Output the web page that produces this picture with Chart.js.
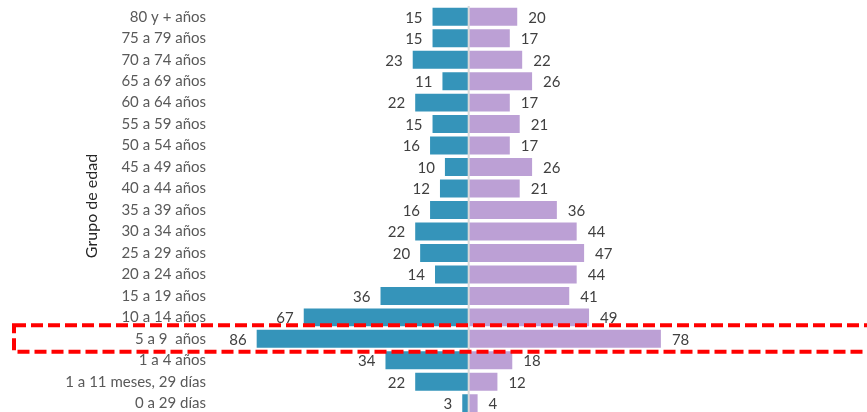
<!DOCTYPE html>
<html>
<head>
<meta charset="utf-8">
<script src="https://cdn.jsdelivr.net/npm/chart.js@4/dist/chart.umd.min.js"></script>
<style>
  html, body { margin: 0; padding: 0; background: #ffffff; overflow: hidden; }
  #wrap { width: 867px; height: 414px; }
</style>
</head>
<body>
<div id="wrap"><canvas id="pyramid" width="867" height="414"></canvas></div>
<script>
// Age groups, oldest at the top
const ageGroups = [
  '80 y + años', '75 a 79 años', '70 a 74 años', '65 a 69 años', '60 a 64 años',
  '55 a 59 años', '50 a 54 años', '45 a 49 años', '40 a 44 años', '35 a 39 años',
  '30 a 34 años', '25 a 29 años', '20 a 24 años', '15 a 19 años', '10 a 14 años',
  '5 a 9  años', '1 a 4 años', '1 a 11 meses, 29 días', '0 a 29 días'
];
// Left side of the pyramid (blue)
const leftCounts = [15, 15, 23, 11, 22, 15, 16, 10, 12, 16, 22, 20, 14, 36, 67, 86, 34, 22, 3];
// Right side of the pyramid (purple)
const rightCounts = [20, 17, 22, 26, 17, 21, 17, 26, 21, 36, 44, 47, 44, 41, 49, 78, 18, 12, 4];
// Highlighted age group
const highlightGroup = '5 a 9  años';
const axisTitle = 'Grupo de edad';

const FONT = 'Lato, "Open Sans", sans-serif';

// Value labels at the outer end of every bar
const valueLabels = {
  id: 'valueLabels',
  afterDatasetsDraw(chart) {
    const ctx = chart.ctx;
    ctx.save();
    ctx.font = '15px ' + FONT;
    ctx.fillStyle = '#404040';
    ctx.textBaseline = 'middle';
    chart.data.datasets.forEach((ds, di) => {
      const meta = chart.getDatasetMeta(di);
      meta.data.forEach((bar, i) => {
        const v = ds.data[i];
        const txt = String(Math.abs(v));
        if (v < 0) { ctx.textAlign = 'right'; ctx.fillText(txt, bar.x - 9, bar.y + 1); }
        else { ctx.textAlign = 'left'; ctx.fillText(txt, bar.x + 10, bar.y + 1); }
      });
    });
    ctx.restore();
  }
};

// Centre divider, rotated axis title and dashed highlight around one row
const decorations = {
  id: 'decorations',
  afterDatasetsDraw(chart) {
    const ctx = chart.ctx;
    const { top, bottom } = chart.chartArea;
    const x0 = chart.scales.x.getPixelForValue(0);
    ctx.save();
    ctx.strokeStyle = '#D9D9D9';
    ctx.lineWidth = 2;
    ctx.beginPath();
    ctx.moveTo(x0, top);
    ctx.lineTo(x0, bottom);
    ctx.stroke();
    ctx.restore();
  },
  afterDraw(chart) {
    const ctx = chart.ctx;
    const { top, bottom } = chart.chartArea;
    ctx.save();
    ctx.font = '16px ' + FONT;
    ctx.fillStyle = '#262626';
    ctx.textAlign = 'center';
    ctx.textBaseline = 'middle';
    ctx.translate(92, (top + bottom) / 2 - 4);
    ctx.rotate(-Math.PI / 2);
    ctx.fillText(axisTitle, 0, 0);
    ctx.restore();

    const yScale = chart.scales.y;
    const cy = yScale.getPixelForValue(ageGroups.indexOf(highlightGroup));
    ctx.save();
    ctx.strokeStyle = '#FF0000';
    ctx.lineWidth = 4;
    ctx.setLineDash([12, 5]);
    ctx.strokeRect(14, cy - 13.5, chart.width + 20, 26.5);
    ctx.restore();
  }
};

new Chart(document.getElementById('pyramid'), {
  type: 'bar',
  data: {
    labels: ageGroups,
    datasets: [
      {
        label: 'Izquierda',
        data: leftCounts.map(v => -v),
        backgroundColor: '#3594BA',
        borderColor: 'rgba(255,255,255,0.55)',
        borderWidth: 1,
        barPercentage: 0.93,
        categoryPercentage: 1
      },
      {
        label: 'Derecha',
        data: rightCounts,
        backgroundColor: '#BCA0D5',
        borderColor: 'rgba(255,255,255,0.55)',
        borderWidth: 1,
        barPercentage: 0.93,
        categoryPercentage: 1
      }
    ]
  },
  options: {
    indexAxis: 'y',
    responsive: false,
    animation: false,
    layout: { padding: { top: 6, right: 2, bottom: 0, left: 0 } },
    plugins: {
      legend: { display: false },
      tooltip: { enabled: false }
    },
    scales: {
      x: {
        display: false,
        stacked: true,
        min: -100,
        max: 160
      },
      y: {
        stacked: true,
        grid: { display: false, drawTicks: false },
        border: { display: false },
        ticks: {
          color: '#595959',
          font: { family: FONT, size: 15 },
          padding: 15,
          autoSkip: false
        },
        afterFit(scale) {
          scale.width = 221;
          scale.paddingTop = 0;
          scale.paddingBottom = 0;
        }
      }
    }
  },
  plugins: [valueLabels, decorations]
});
</script>
</body>
</html>
